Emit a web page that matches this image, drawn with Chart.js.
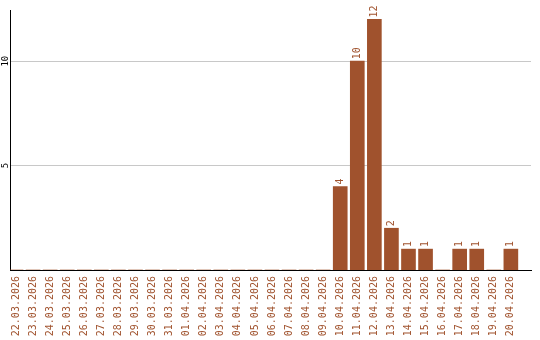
<!DOCTYPE html>
<html>
<head>
<meta charset="utf-8">
<script src="https://cdn.jsdelivr.net/npm/chart.js@4"></script>
<style>
  html, body { margin: 0; padding: 0; background: #fff; }
  canvas { display: block; }
</style>
</head>
<body>
<canvas id="chart" width="540" height="340"></canvas>
<script>
// dados
const dates = [
    "22.03.2026", "23.03.2026", "24.03.2026", "25.03.2026", "26.03.2026",
    "27.03.2026", "28.03.2026", "29.03.2026", "30.03.2026", "31.03.2026",
    "01.04.2026", "02.04.2026", "03.04.2026", "04.04.2026", "05.04.2026",
    "06.04.2026", "07.04.2026", "08.04.2026", "09.04.2026", "10.04.2026",
    "11.04.2026", "12.04.2026", "13.04.2026", "14.04.2026", "15.04.2026",
    "16.04.2026", "17.04.2026", "18.04.2026", "19.04.2026", "20.04.2026"
]
const counts = [
    0, 0, 0, 0, 0, 0, 0, 0, 0, 0,
    0, 0, 0, 0, 0, 0, 0, 0, 0, 4,
    10, 12, 2, 1, 1, 0, 1, 1, 0, 1
]
const yTicks = [5, 10]

const SIENNA = "#a0522d"
const MONO = "'DejaVu Sans Mono', monospace"

Chart.defaults.font.family = MONO

// rótulos de valor acima das barras, girados
const valueLabels = {
    id: "valueLabels",
    afterDatasetsDraw(chart) {
        const ctx = chart.ctx
        const meta = chart.getDatasetMeta(0)
        ctx.save()
        ctx.fillStyle = SIENNA
        ctx.font = "10px " + MONO
        ctx.textAlign = "left"
        ctx.textBaseline = "middle"
        meta.data.forEach((bar, i) => {
            const v = counts[i]
            if (!v) return
            ctx.save()
            ctx.translate(bar.x, bar.y - 2)
            ctx.rotate(-Math.PI / 2)
            ctx.fillText(String(v), 0, 0)
            ctx.restore()
        })
        ctx.restore()
    }
}

new Chart(document.getElementById("chart"), {
    type: "bar",
    data: {
        datasets: [{
            data: counts.map((v, i) => ({ x: i, y: v })),
            backgroundColor: SIENNA,
            borderWidth: 0,
            barThickness: 14
        }]
    },
    options: {
        responsive: false,
        animation: false,
        layout: { padding: { top: 10, right: 9, left: 0, bottom: 0 } },
        plugins: {
            legend: { display: false },
            tooltip: { enabled: false }
        },
        scales: {
            x: {
                type: "linear",
                offset: false,
                min: -0.353,
                max: 30.18,
                grid: { display: false, drawTicks: false },
                border: { color: "#000", width: 1 },
                afterFit: s => {
                    s.height = 70
                    s.paddingLeft = 0
                    s.paddingRight = 0
                },
                ticks: {
                    stepSize: 1,
                    autoSkip: false,
                    includeBounds: false,
                    minRotation: 90,
                    maxRotation: 90,
                    padding: 6,
                    color: SIENNA,
                    font: { size: 10 },
                    callback: v => dates[v] ?? ""
                }
            },
            y: {
                min: 0,
                max: 12.45,
                grid: { color: "#c8c8c8", drawTicks: false },
                border: { color: "#000", width: 1 },
                afterFit: s => {
                    s.width = 10
                    s.paddingTop = 0
                    s.paddingBottom = 0
                },
                afterBuildTicks: s => { s.ticks = yTicks.map(v => ({ value: v })) },
                ticks: {
                    includeBounds: false,
                    minRotation: 90,
                    maxRotation: 90,
                    crossAlign: "center",
                    padding: -1,
                    color: "#000",
                    font: { size: 9 }
                }
            }
        }
    },
    plugins: [valueLabels]
})
</script>
</body>
</html>
